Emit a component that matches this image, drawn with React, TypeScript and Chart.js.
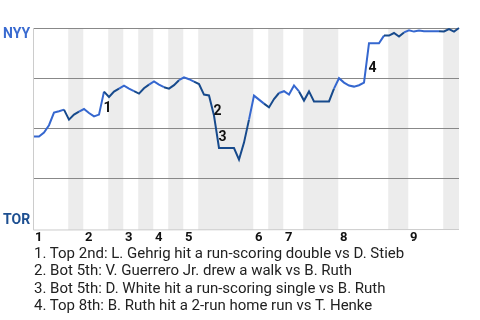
import React, { useEffect, useRef } from "react";
import { Chart, registerables } from "chart.js";

Chart.register(...registerables);

// NYY win probability (%) after each plate appearance
const winProb: number[] = [
  45.7, 45.7, 47.7, 51.4, 57.7, 58.4, 59.2, 54.2, 56.7, 58.2,
  59.5, 57.5, 55.8, 56.7, 68.2, 65.5, 68.2, 69.7, 71.2, 69.7,
  68.4, 67.2, 69.9, 71.7, 73.3, 71.7, 70.4, 69.7, 71.4, 73.9,
  75.3, 74.4, 73.2, 72.0, 66.7, 66.3, 56.2, 40.0, 40.0, 40.0,
  40.0, 34.2, 42.7, 54.2, 66.2, 64.2, 62.2, 60.3, 64.5, 67.5,
  68.4, 66.7, 71.3, 68.3, 63.7, 68.3, 63.3, 63.3, 63.3, 63.3,
  69.7, 74.9, 72.7, 71.2, 70.7, 71.4, 72.7, 92.4, 92.4, 92.4,
  96.2, 96.2, 97.5, 95.7, 97.8, 98.8, 98.2, 98.7, 98.4, 98.4,
  98.4, 98.4, 98.3, 99.4, 98.2, 100.0,
];

// index of first plate appearance of each half inning (top 1, bot 1, top 2, ...)
const halfInningStarts: number[] = [0, 7, 10, 15, 18, 21, 24, 27, 30, 33, 44, 47, 50, 54, 61, 71, 75, 82];
const inningLabels: string[] = ["1", "2", "3", "4", "5", "6", "7", "8", "9"];
const gridValues: number[] = [25, 50, 75, 100];

const eventIndex: number[] = [14, 36, 37, 67];
const eventNotes: string[] = [
  "1. Top 2nd: L. Gehrig hit a run-scoring double vs D. Stieb",
  "2. Bot 5th: V. Guerrero Jr. drew a walk vs B. Ruth",
  "3. Bot 5th: D. White hit a run-scoring single vs B. Ruth",
  "4. Top 8th: B. Ruth hit a 2-run home run vs T. Henke",
];

const teamTop = "NYY";
const teamBottom = "TOR";

const LIGHT = "#3567cf";
const DARK = "#174a8c";
const FONT = "Roboto, 'Liberation Sans', sans-serif";

const lastIndex = winProb.length - 1;

function isBottomHalf(idx: number): boolean {
  let h = 0;
  for (let i = 0; i < halfInningStarts.length; i++) {
    if (halfInningStarts[i] <= idx) h = i;
  }
  return h % 2 === 1;
}

const decorPlugin = {
  id: "decor",
  beforeDraw(chart: any) {
    const { ctx, chartArea, scales } = chart;
    const { top, bottom, left, right } = chartArea;
    const x = scales.x;
    const y = scales.y;
    ctx.save();
    ctx.fillStyle = "#ffffff";
    ctx.fillRect(0, 0, chart.width, chart.height);
    // bottom half-inning bands
    ctx.fillStyle = "#ececec";
    for (let i = 1; i < halfInningStarts.length; i += 2) {
      const s = halfInningStarts[i] - 0.15;
      const e = i + 1 < halfInningStarts.length ? halfInningStarts[i + 1] - 0.15 : lastIndex;
      const x0 = x.getPixelForValue(s);
      const x1 = Math.min(right, x.getPixelForValue(e));
      ctx.fillRect(x0, top, x1 - x0, bottom - top);
    }
    // grid lines
    ctx.strokeStyle = "#888888";
    ctx.lineWidth = 1;
    for (const v of gridValues) {
      const py = Math.round(y.getPixelForValue(v)) + 0.5;
      ctx.beginPath();
      ctx.moveTo(left - 1, py);
      ctx.lineTo(right, py);
      ctx.stroke();
    }
    // borders
    ctx.strokeStyle = "#cccccc";
    ctx.beginPath();
    ctx.moveTo(left - 0.5, top);
    ctx.lineTo(left - 0.5, bottom);
    ctx.lineTo(right, bottom - 0.5);
    ctx.stroke();
    ctx.restore();
  },
  afterDatasetsDraw(chart: any) {
    const { ctx, chartArea, scales } = chart;
    const x = scales.x;
    const y = scales.y;
    ctx.save();
    ctx.textAlign = "left";
    ctx.textBaseline = "middle";
    // event markers
    ctx.font = `bold 14px ${FONT}`;
    ctx.fillStyle = "#111111";
    eventIndex.forEach((e, k) => {
      const mx = x.getPixelForValue(e - 0.5);
      const my = y.getPixelForValue((winProb[e - 1] + winProb[e]) / 2);
      ctx.fillText(String(k + 1), mx + 2, my + 5.5);
    });
    // inning labels
    ctx.font = `bold 13px ${FONT}`;
    inningLabels.forEach((lab, k) => {
      const px = x.getPixelForValue(halfInningStarts[k * 2]);
      ctx.fillText(lab, px + 1, chartArea.bottom + 7.5);
    });
    // team labels
    ctx.font = `bold 14px ${FONT}`;
    ctx.fillStyle = "#3a6bd0";
    ctx.fillText(teamTop, 3, y.getPixelForValue(100) + 6.5);
    ctx.fillStyle = "#1d4f91";
    ctx.fillText(teamBottom, 3, chartArea.bottom - 10);
    ctx.restore();
  },
};

export default function App() {
  const canvasRef = useRef<HTMLCanvasElement | null>(null);

  useEffect(() => {
    if (!canvasRef.current) return;
    const chart = new Chart(canvasRef.current, {
      type: "line",
      data: {
        datasets: [
          {
            data: winProb.map((v, i) => ({ x: i, y: v })),
            borderColor: LIGHT,
            borderWidth: 2,
            pointRadius: 0,
            tension: 0,
            fill: false,
            clip: 4,
            segment: {
              borderColor: (ctx: any) => (isBottomHalf(ctx.p1DataIndex) ? DARK : LIGHT),
            },
          } as any,
        ],
      },
      options: {
        animation: false,
        responsive: false,
        maintainAspectRatio: false,
        layout: { padding: { left: 34, right: 21, top: 28, bottom: 90 } },
        scales: {
          x: { type: "linear", min: 0, max: lastIndex, display: false },
          y: { type: "linear", min: -1, max: 100, display: false },
        },
        plugins: { legend: { display: false }, tooltip: { enabled: false } },
        events: [],
      },
      plugins: [decorPlugin],
    });
    return () => chart.destroy();
  }, []);

  return (
    <div style={{ position: "fixed", left: 0, top: 0, width: 480, height: 320, background: "#fff" }}>
      <canvas ref={canvasRef} width={480} height={320} style={{ display: "block", width: 480, height: 320 }} />
      <div
        style={{
          position: "absolute",
          left: 34,
          top: 244.5,
          fontFamily: FONT,
          fontSize: 15,
          lineHeight: "17.5px",
          color: "#222",
          whiteSpace: "nowrap",
        }}
      >
        {eventNotes.map((n, i) => (
          <div key={i}>{n}</div>
        ))}
      </div>
    </div>
  );
}
